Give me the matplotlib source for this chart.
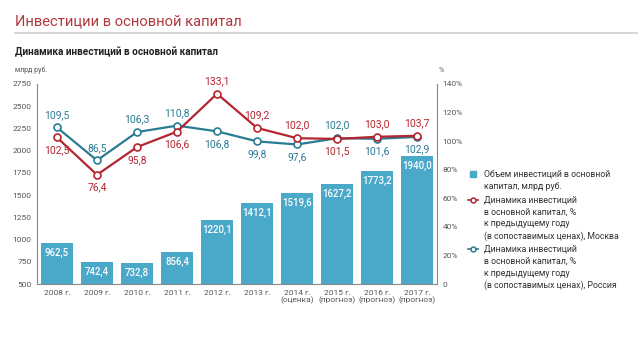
import matplotlib.pyplot as plt
import numpy as np
from matplotlib.lines import Line2D

plt.rcParams['font.family'] = ['Roboto', 'DejaVu Sans']

years = ['2008 г.', '2009 г.', '2010 г.', '2011 г.', '2012 г.', '2013 г.',
         '2014 г.\n(оценка)', '2015 г.\n(прогноз)', '2016 г.\n(прогноз)', '2017 г.\n(прогноз)']
volume = [962.5, 742.4, 732.8, 856.4, 1220.1, 1412.1, 1519.6, 1627.2, 1773.2, 1940.0]
moscow = [102.5, 76.4, 95.8, 106.6, 133.1, 109.2, 102.0, 101.5, 103.0, 103.7]
russia = [109.5, 86.5, 106.3, 110.8, 106.8, 99.8, 97.6, 102.0, 101.6, 102.9]

# label above (+1) or below (-1) the marker
moscow_pos = [-1, -1, -1, -1, 1, 1, 1, -1, 1, 1]
russia_pos = [1, 1, 1, 1, -1, -1, -1, 1, -1, -1]

legend_labels = [
    ['Объем инвестиций в основной', 'капитал, млрд руб.'],
    ['Динамика инвестиций', 'в основной капитал, %', 'к предыдущему году',
     '(в сопоставимых ценах), Москва'],
    ['Динамика инвестиций', 'в основной капитал, %', 'к предыдущему году',
     '(в сопоставимых ценах), Россия'],
]

bar_clr = '#4aa8c8'
red = '#b3262f'
teal = '#2a7b94'
grey = '#555555'

def fmt(v):
    return ('%.1f' % v).replace('.', ',')

W, H = 638, 360
fig = plt.figure(figsize=(6.38, 3.6), dpi=100)
fig.text(0.023, 0.94, 'Инвестиции в основной капитал', color='#b0383f', fontsize=10.6, va='center')
fig.add_artist(Line2D([0.023, 1.0], [0.908, 0.908], color='#d0d0d0', lw=1.2))
fig.text(0.023, 0.855, 'Динамика инвестиций в основной капитал', fontsize=7.2, fontweight='bold',
         color='#222222', va='center')
fig.text(0.023, 0.805, 'млрд руб.', fontsize=5, color=grey, va='center')
fig.text(0.688, 0.805, '%', fontsize=5, color=grey, va='center')

ax = fig.add_axes([0.058, 0.211, 0.627, 0.556])
x = np.arange(len(years))
ax.bar(x, np.array(volume) - 500, bottom=500, width=0.82, color=bar_clr)
for i, v in enumerate(volume):
    ax.annotate(fmt(v), (x[i], v), xytext=(0, -3.5), textcoords='offset points',
                ha='center', va='top', color='white', fontsize=6.9, fontweight='medium')
ax.set_xlim(-0.5, 9.5)
ax.set_ylim(500, 2750)
ax.set_yticks(np.arange(500, 2751, 250))
ax.set_xticks(x)
ax.set_xticklabels(years, linespacing=1.1)
ax.tick_params(axis='both', length=0, labelsize=6, colors=grey, pad=4)
for s in ['top', 'right']:
    ax.spines[s].set_visible(False)
for s in ['left', 'bottom']:
    ax.spines[s].set_color('#888888')
    ax.spines[s].set_linewidth(0.8)

ax2 = ax.twinx()
ax2.plot(x, russia, color=teal, lw=1.6, marker='o', ms=5, mfc='white', mec=teal, mew=1.2)
ax2.plot(x, moscow, color=red, lw=1.6, marker='o', ms=5, mfc='white', mec=red, mew=1.2)
for i in range(len(x)):
    ax2.annotate(fmt(moscow[i]), (x[i], moscow[i]), xytext=(0, 5.5 * moscow_pos[i]),
                 textcoords='offset points', ha='center',
                 va='bottom' if moscow_pos[i] > 0 else 'top', color=red, fontsize=7.5)
    ax2.annotate(fmt(russia[i]), (x[i], russia[i]), xytext=(0, 5.5 * russia_pos[i]),
                 textcoords='offset points', ha='center',
                 va='bottom' if russia_pos[i] > 0 else 'top', color=teal, fontsize=7.5)
ax2.set_ylim(0, 140)
ax2.set_yticks(np.arange(0, 141, 20))
ax2.set_yticklabels(['0'] + ['%d%%' % t for t in range(20, 141, 20)])
ax2.tick_params(axis='y', length=0, labelsize=6, colors=grey, pad=4)
for s in ['top', 'left', 'bottom']:
    ax2.spines[s].set_visible(False)
ax2.spines['right'].set_color('#888888')
ax2.spines['right'].set_linewidth(0.8)

# legend drawn by hand: pixel rows of each block's first line
block_y = [174, 200, 249]
line_h = 12
mx, tx = 473, 484
for k, (lines, y0) in enumerate(zip(legend_labels, block_y)):
    for j, line in enumerate(lines):
        fig.text(tx / W, 1 - (y0 + j * line_h) / H, line, fontsize=6.3, color='#333333', va='center')
    yy = 1 - y0 / H
    if k == 0:
        fig.add_artist(Line2D([mx / W], [yy], marker='s', ms=5, color=bar_clr, lw=0))
    else:
        c = red if k == 1 else teal
        fig.add_artist(Line2D([(mx - 5) / W, (mx + 5) / W], [yy, yy], color=c, lw=1.2))
        fig.add_artist(Line2D([mx / W], [yy], marker='o', ms=3.5, mfc='white', mec=c, mew=1.1, lw=0))

fig.savefig('out.png', dpi=100)
